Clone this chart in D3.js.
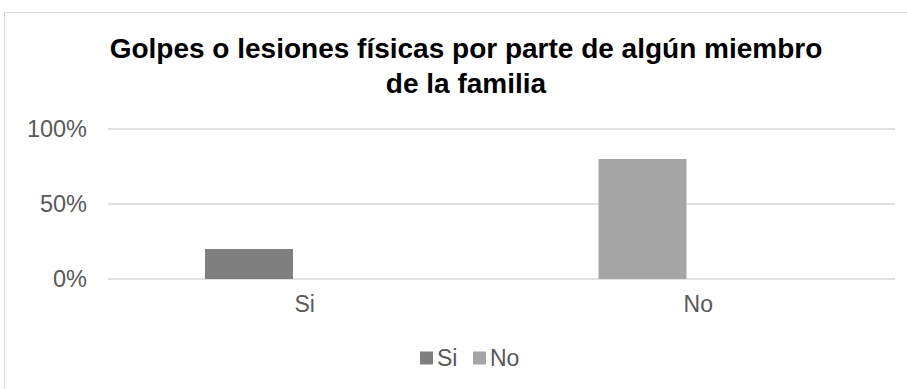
<!DOCTYPE html>
<html>
<head>
<meta charset="utf-8">
<script src="https://cdn.jsdelivr.net/npm/d3@7"></script>
<style>
  html, body { margin: 0; padding: 0; background: #fff; }
  svg { display: block; font-family: Arial, "Liberation Sans", sans-serif; }
</style>
</head>
<body>
<svg id="chart" width="907" height="389"></svg>
<script>
const titleLines = ["Golpes o lesiones físicas por parte de algún miembro", "de la familia"];
const categories = ["Si", "No"];
const values = [0.20, 0.80];
const seriesSlots = ["serie1", "serie2"];
const legendLabels = ["Si", "No"];
const colors = ["#7f7f7f", "#a5a5a5"];
const yTicks = [0, 0.5, 1];

const FONT = "Arial, 'Liberation Sans', sans-serif";
const svg = d3.select("#chart");

// chart frame
svg.append("rect")
  .attr("x", 4.5).attr("y", 12.5)
  .attr("width", 920).attr("height", 400)
  .attr("fill", "#fff").attr("stroke", "#d9d9d9").attr("stroke-width", 1);

// title
svg.append("text")
  .attr("text-anchor", "middle")
  .attr("font-weight", "bold")
  .attr("font-size", 28)
  .attr("fill", "#000")
  .selectAll("tspan").data(titleLines).join("tspan")
  .attr("x", 466)
  .attr("y", (d, i) => 58 + i * 35)
  .text(d => d);

const plotLeft = 108, plotRight = 895, plotTop = 129, plotBottom = 279;

const x0 = d3.scaleBand().domain(categories).range([plotLeft, plotRight]).padding(0);
const x1 = d3.scaleBand().domain(seriesSlots)
  .range([0, x0.bandwidth()]).paddingInner(0).paddingOuter(1.236).align(0.446);
const y = d3.scaleLinear().domain([0, 1]).range([plotBottom, plotTop]);

// gridlines
svg.append("g").selectAll("line").data(yTicks).join("line")
  .attr("x1", plotLeft).attr("x2", plotRight)
  .attr("y1", d => y(d)).attr("y2", d => y(d))
  .attr("stroke", "#d9d9d9").attr("stroke-width", 1.5);

// y axis labels
const yAxis = d3.axisLeft(y).tickValues(yTicks).tickFormat(d3.format(".0%")).tickSize(0).tickPadding(0);
const gy = svg.append("g").attr("transform", `translate(${plotLeft - 21},0)`).call(yAxis);
gy.select(".domain").remove();
gy.selectAll("text").attr("font-size", 23.5).attr("fill", "#595959").attr("font-family", FONT);

// x axis labels
const xAxis = d3.axisBottom(x0).tickSize(0).tickPadding(0);
const gx = svg.append("g").attr("transform", `translate(0,${plotBottom + 17})`).call(xAxis);
gx.select(".domain").remove();
gx.selectAll("text").attr("font-size", 23).attr("fill", "#595959").attr("font-family", FONT);

// bars: one series with colours varying by point, in the first slot of each group
svg.append("g").selectAll("rect").data(categories).join("rect")
  .attr("x", d => x0(d) + x1("serie1"))
  .attr("width", x1.bandwidth())
  .attr("y", (d, i) => y(values[i]))
  .attr("height", (d, i) => y(0) - y(values[i]))
  .attr("fill", (d, i) => colors[i]);

// legend
const legend = svg.append("g").attr("transform", "translate(420,358)");
const items = legend.selectAll("g").data(legendLabels).join("g")
  .attr("transform", (d, i) => `translate(${i * 53},0)`);
items.append("rect").attr("x", 0).attr("y", -6.5).attr("width", 13).attr("height", 13)
  .attr("fill", (d, i) => colors[i]);
items.append("text").attr("x", 17).attr("y", 0).attr("dy", "0.35em")
  .attr("font-size", 23).attr("fill", "#595959").attr("font-family", FONT).text(d => d);
</script>
</body>
</html>
